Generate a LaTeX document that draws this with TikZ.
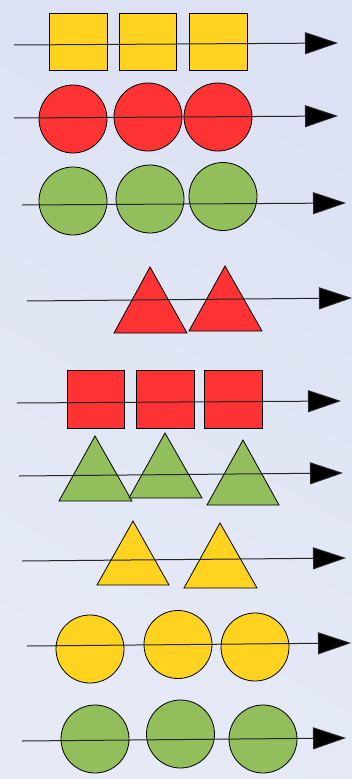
\documentclass[tikz,border=0pt]{standalone}
\usetikzlibrary{arrows.meta}
\definecolor{bgc}{HTML}{DCE2F3}
\definecolor{bgl}{HTML}{E6EAF7}
\definecolor{yel}{HTML}{FFD320}
\definecolor{redc}{HTML}{FF3333}
\definecolor{grn}{HTML}{92BF5B}
\tikzset{
  shp/.style={draw=black, line width=0.8pt},
  arr/.style={line width=1pt, draw=black!85, -{Triangle[length=33pt,width=22pt,fill=black]}},
}
\begin{document}
\begin{tikzpicture}[x=1pt,y=-1pt]
\shade[left color=bgc, right color=bgl, shading angle=-30] (0,0) rectangle (352,779);
\useasboundingbox (0,0) rectangle (352,779);
% Row 1 yellow squares
\foreach \a/\b in {49/107,119/176,189/247} \filldraw[shp,fill=yel] (\a,13) rectangle (\b,70);
\coordinate (s1) at (14,45); \coordinate (e1) at (338,43);
\draw[arr] (s1) -- (e1);
% Row 2 red circles
\foreach \x/\y in {73/119,148/117,218/117} \filldraw[shp,fill=redc] (\x,\y) circle (34);
\coordinate (s2) at (14,118); \coordinate (e2) at (338,116);
\draw[arr] (s2) -- (e2);
% Row 3 green circles
\foreach \x/\y in {73/201,150/199,223/196.5} \filldraw[shp,fill=grn] (\x,\y) circle (34);
\coordinate (s3) at (22,205); \coordinate (e3) at (346,203);
\draw[arr] (s3) -- (e3);
% Row 4 red triangles
\filldraw[shp,fill=redc] (150,267) -- (187,333) -- (114,333) -- cycle;
\filldraw[shp,fill=redc] (225,266) -- (262,331) -- (189,331) -- cycle;
\coordinate (s4) at (27,301); \coordinate (e4) at (352,298);
\draw[arr] (s4) -- (e4);
% Row 5 red squares
\foreach \a/\b in {67/124,136/194,204/262} \filldraw[shp,fill=redc] (\a,370) rectangle (\b,428);
\coordinate (s5) at (17,403); \coordinate (e5) at (341,401);
\draw[arr] (s5) -- (e5);
% Row 6 green triangles
\filldraw[shp,fill=grn] (95,436) -- (132,501) -- (59,501) -- cycle;
\filldraw[shp,fill=grn] (165,433) -- (202,498) -- (129,498) -- cycle;
\filldraw[shp,fill=grn] (243,440) -- (279,505) -- (207,505) -- cycle;
\coordinate (s6) at (19,476); \coordinate (e6) at (343,473);
\draw[arr] (s6) -- (e6);
% Row 7 yellow triangles
\filldraw[shp,fill=yel] (133,521) -- (169,585) -- (97,585) -- cycle;
\filldraw[shp,fill=yel] (220,523) -- (257,588) -- (184,588) -- cycle;
\coordinate (s7) at (22,561); \coordinate (e7) at (346,558);
\draw[arr] (s7) -- (e7);
% Row 8 yellow circles
\foreach \x/\y in {90/649,178/644.5,255/647} \filldraw[shp,fill=yel] (\x,\y) circle (34);
\coordinate (s8) at (27,646); \coordinate (e8) at (351,643);
\draw[arr] (s8) -- (e8);
% Row 9 green circles
\foreach \x/\y in {95/739,180.5/734,263/739} \filldraw[shp,fill=grn] (\x,\y) circle (34);
\coordinate (s9) at (22,741); \coordinate (e9) at (346,738);
\draw[arr] (s9) -- (e9);
\end{tikzpicture}
\end{document}
